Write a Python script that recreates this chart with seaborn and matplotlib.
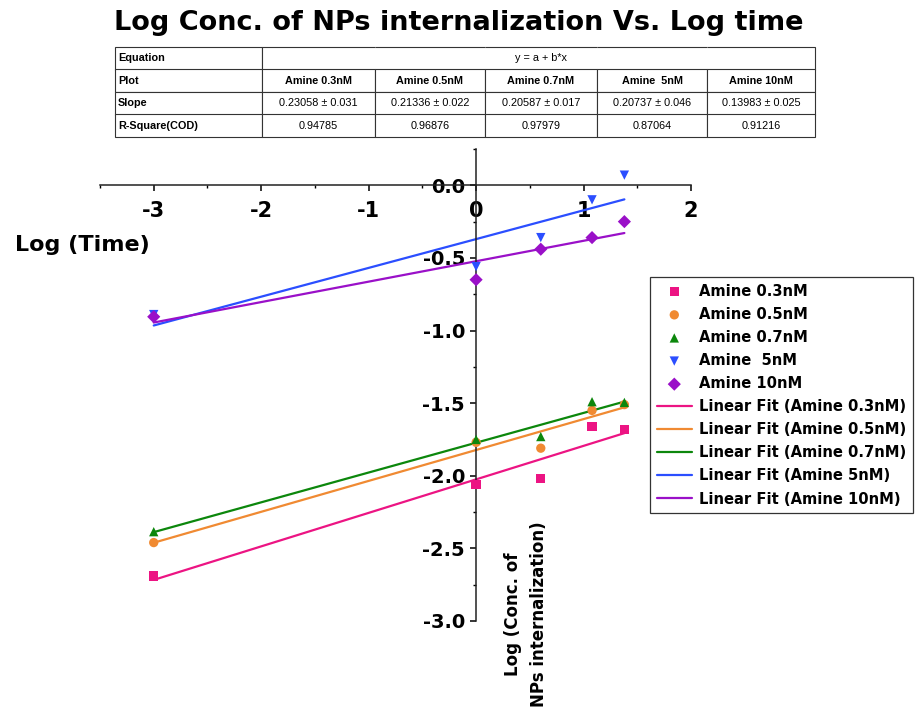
import numpy as np
import pandas as pd
import matplotlib
matplotlib.use("Agg")
import matplotlib.pyplot as plt
import seaborn as sns
from matplotlib.ticker import MultipleLocator, FormatStrFormatter

# log10 of time (0.001, 1, 4, 12, 24)
log_time = [-3.0, 0.0, 0.602, 1.079, 1.380]

# log of concentration of internalized NPs
amine_03 = [-2.69, -2.06, -2.02, -1.66, -1.68]
amine_05 = [-2.46, -1.77, -1.81, -1.55, -1.51]
amine_07 = [-2.385, -1.75, -1.73, -1.49, -1.495]
amine_5 = [-0.89, -0.56, -0.36, -0.10, 0.07]
amine_10 = [-0.905, -0.65, -0.44, -0.36, -0.25]

series_names = ["Amine 0.3nM", "Amine 0.5nM", "Amine 0.7nM", "Amine  5nM", "Amine 10nM"]
fit_names = ["Amine 0.3nM", "Amine 0.5nM", "Amine 0.7nM", "Amine 5nM", "Amine 10nM"]
series_values = [amine_03, amine_05, amine_07, amine_5, amine_10]
colors = ["#EC1483", "#F08A32", "#0C870C", "#2B4EFF", "#9A10C8"]
markers = ["s", "o", "^", "v", "D"]

# fit summary table
table_cols = ["Amine 0.3nM", "Amine 0.5nM", "Amine 0.7nM", "Amine  5nM", "Amine 10nM"]
slopes = ["0.23058 \u00b1 0.031", "0.21336 \u00b1 0.022", "0.20587 \u00b1 0.017",
          "0.20737 \u00b1 0.046", "0.13983 \u00b1 0.025"]
r_square = ["0.94785", "0.96876", "0.97979", "0.87064", "0.91216"]

sns.set_style("ticks")
plt.rcParams["font.family"] = ["DejaVu Sans"]
plt.rcParams["font.weight"] = "bold"
plt.rcParams["axes.unicode_minus"] = False
plt.rcParams["text.color"] = "black"
plt.rcParams["xtick.color"] = "black"
plt.rcParams["ytick.color"] = "black"

fig = plt.figure(figsize=(9.19, 7.09), dpi=100)
ax = fig.add_axes([100 / 919, 1 - 621 / 709, 591 / 919, 472 / 709])

for name, fname, vals, col, mk in zip(series_names, fit_names, series_values, colors, markers):
    df = pd.DataFrame({"x": log_time, "y": vals})
    sns.scatterplot(data=df, x="x", y="y", ax=ax, color=col, marker=mk, s=45,
                    edgecolor="none", label=name, zorder=3)
    sns.regplot(data=df, x="x", y="y", ax=ax, scatter=False, ci=None, truncate=True,
                color=col, line_kws={"lw": 1.6}, label=f"Linear Fit ({fname})")

handles, labels = ax.get_legend_handles_labels()
order = [i for i, l in enumerate(labels) if not l.startswith("Linear")] + \
        [i for i, l in enumerate(labels) if l.startswith("Linear")]
leg = ax.legend([handles[i] for i in order], [labels[i] for i in order],
                loc="upper left", bbox_to_anchor=(650 / 919, 1 - 277 / 709),
                bbox_transform=fig.transFigure, frameon=True,
                fancybox=False, edgecolor="black", labelspacing=0.55,
                handlelength=2.4, handletextpad=0.5, borderpad=0.45,
                borderaxespad=0, prop={"weight": "bold", "size": 10.6})
leg.get_frame().set_linewidth(0.9)
for t in leg.get_texts():
    t.set_color("black")

ax.set_xlim(-3.5, 2.0)
ax.set_ylim(-3.0, 0.25)
ax.spines["left"].set_position(("data", 0))
ax.spines["bottom"].set_position(("data", 0))
ax.spines["top"].set_visible(False)
ax.spines["right"].set_visible(False)
for sp in ["left", "bottom"]:
    ax.spines[sp].set_linewidth(1.1)
    ax.spines[sp].set_color("#222222")

ax.xaxis.set_major_locator(MultipleLocator(1))
ax.xaxis.set_minor_locator(MultipleLocator(0.5))
ax.yaxis.set_major_locator(MultipleLocator(0.5))
ax.yaxis.set_minor_locator(MultipleLocator(0.25))
ax.xaxis.set_major_formatter(FormatStrFormatter("%d"))
ax.yaxis.set_major_formatter(FormatStrFormatter("%.1f"))
ax.tick_params(axis="x", which="major", direction="out", length=4, width=1.1,
               labelsize=15, pad=7)
ax.tick_params(axis="y", which="major", direction="out", length=4, width=1.1,
               labelsize=14, pad=4)
ax.tick_params(which="minor", direction="out", length=2.5, width=1.0)
for lab in ax.get_xticklabels() + ax.get_yticklabels():
    lab.set_fontweight("bold")
ax.set_xlabel("")
ax.set_ylabel("")
ax.set_facecolor("none")

fig.text(82 / 919, 1 - 245 / 709, "Log (Time)", ha="center", va="center",
         fontsize=16, fontweight="bold")
fig.text(526 / 919, 1 - 614 / 709, "Log (Conc. of\nNPs internalization)",
         rotation=90, ha="center", va="center", fontsize=12, fontweight="bold",
         linespacing=1.5)
fig.text(459 / 919, 1 - 23 / 709, "Log Conc. of NPs internalization Vs. Log time",
         ha="center", va="center", fontsize=19.5, fontweight="bold")

# summary table above the plot
tax = fig.add_axes([115 / 919, 1 - 137 / 709, 700 / 919, 90 / 709])
tax.axis("off")
cell_text = [["Equation", "", "", "y = a + b*x", "", ""],
             ["Plot"] + table_cols,
             ["Slope"] + slopes,
             ["R-Square(COD)"] + r_square]
widths = np.array([147, 113, 110, 112, 110, 108], dtype=float)
tbl = tax.table(cellText=cell_text, bbox=[0, 0, 1, 1], colWidths=list(widths / widths.sum()),
                cellLoc="center")
tbl.auto_set_font_size(False)
for (r, c), cell in tbl.get_celld().items():
    cell.set_linewidth(0.8)
    cell.set_edgecolor("#333333")
    txt = cell.get_text()
    txt.set_fontfamily("Liberation Sans")
    txt.set_fontsize(7.8)
    txt.set_fontweight("normal")
    txt.set_color("black")
    if c == 0:
        txt.set_fontweight("bold")
        txt.set_ha("left")
        cell.PAD = 0.02
    if r == 1:
        txt.set_fontweight("bold")
    if r == 0 and c > 0:
        if c == 1:
            cell.visible_edges = "BTL"
        elif c == 5:
            cell.visible_edges = "BTR"
        else:
            cell.visible_edges = "BT"

fig.savefig("out.png", dpi=100)
